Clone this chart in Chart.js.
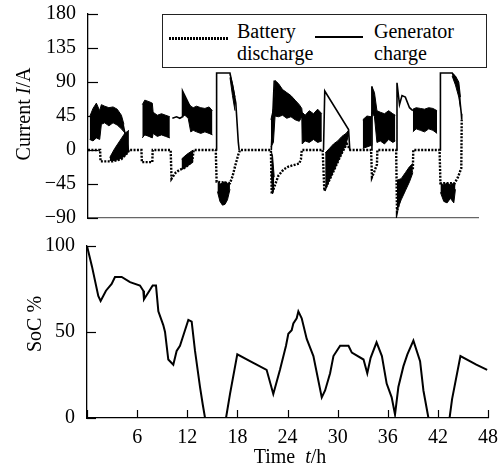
<!DOCTYPE html>
<html>
<head>
<meta charset="utf-8">
<script src="https://cdn.jsdelivr.net/npm/chart.js@4.4.1/dist/chart.umd.min.js"></script>
<style>
  body { margin: 0; background: #fff; }
  #wrap { position: relative; width: 502px; height: 468px; font-family: "Liberation Serif", "Times New Roman", "DejaVu Serif", serif; color: #000; }
  canvas { position: absolute; left: 0; }
  #currentChart { top: 0; }
  #socChart { top: 232px; }
  .label { position: absolute; font-size: 20px; line-height: 22px; white-space: nowrap; }
  .rot { transform: translate(-50%, -50%) rotate(-90deg); }
  .center { transform: translate(-50%, -50%); }
  #legend { position: absolute; left: 162px; top: 14px; width: 325px; height: 54px; box-sizing: border-box; border: 1.3px solid #222; background: #fff; }
  #legend .txt { position: absolute; top: 5px; font-size: 20px; line-height: 22px; }
  .dots { position: absolute; left: 6px; top: 22px; width: 59px; height: 3px;
    background: repeating-linear-gradient(to right, #000 0 2px, transparent 2px 3px); }
  .solid { position: absolute; left: 152px; top: 21px; width: 48px; height: 2px; background: #000; }
</style>
</head>
<body>
<div id="wrap">
  <canvas id="currentChart" width="502" height="232"></canvas>
  <canvas id="socChart" width="502" height="236"></canvas>
  <div id="legend">
    <div class="dots"></div>
    <div class="txt" style="left:74px">Battery<br>discharge</div>
    <div class="solid"></div>
    <div class="txt" style="left:211px">Generator<br>charge</div>
  </div>
  <div class="label rot" style="left:23px; top:114px">Current <i>I</i>/A</div>
  <div class="label rot" style="left:34px; top:324px">SoC %</div>
  <div class="label center" style="left:290px; top:456px">Time&nbsp;&nbsp;<i>t</i>/h</div>
</div>
<script>
// tick labels
const currentTicks = [-90, -45, 0, 45, 90, 135, 180];
const socTicks = [0, 50, 100];
const timeTicks = [0, 6, 12, 18, 24, 30, 36, 42, 48];

// battery discharge current (dotted)
const batteryTime = [0, 1.45, 1.5, 3.0, 4.0, 4.8, 4.9, 6.4, 6.45, 7.7, 7.75, 9.9, 10.0, 10.5, 11.0, 11.5, 12.0, 12.5, 12.65, 15.3, 15.4, 17.0, 17.3, 17.6, 18.0, 18.2, 21.9, 22.0, 22.4, 22.8, 23.4, 24.0, 24.6, 25.3, 25.5, 25.6, 28.1, 28.3, 29.4, 30.4, 31.0, 31.4, 33.9, 34.0, 34.3, 34.6, 34.65, 36.9, 37.0, 37.4, 37.8, 38.2, 38.6, 38.9, 38.95, 42.1, 42.2, 43.9, 44.3, 44.7, 44.75];
const batteryCurrent = [0, 0, -15, -15, -12, -3, 0, 0, -16, -16, 0, 0, -38, -30, -26, -24, -20, -14, 0, 0, -42, -44, -35, -22, -6, 0, 0, -58, -46, -34, -26, -22, -20, -18, -12, 0, 0, -54, -28, -4, 8, 0, 0, -36, -28, -19, 0, 0, -82, -62, -48, -38, -30, -26, 0, 0, -44, -44, -36, -24, 40];

// generator charge current (solid)
const generatorTime = [4.2, 4.85, 5.0, 10.1, 10.6, 11.0, 11.3, 11.32, 12.2, 12.3, 15.35, 15.4, 17.0, 17.4, 17.7, 18.0, 18.1, 18.2, 21.95, 22.3, 22.35, 28.2, 28.35, 31.2, 31.35, 31.5, 33.95, 34.0, 34.05, 36.95, 37.0, 37.3, 37.6, 38.0, 38.5, 38.9, 39.0, 42.15, 42.2, 43.6, 44.0, 44.4, 44.7, 44.75];
const generatorCurrent = [34, 0, null, 42, 44, 42, 44, 78, 58, null, 0, 102, 102, 80, 62, 10, 0, null, 0, 92, null, 0, 78, 27, 0, null, 0, 84, null, 0, 89, 60, 72, 70, 56, 52, null, 0, 102, 102, 96, 80, 48, 40];

// dense oscillation envelopes, positive side
const upperTime = [0.2, 0.6, 1.0, 1.4, 1.6, 2.0, 2.5, 3.0, 3.5, 4.0, 4.3, 5.0, 6.5, 6.8, 7.3, 7.7, 7.8, 8.3, 8.8, 9.3, 9.8, 10.5, 11.3, 11.6, 12.0, 12.3, 12.6, 13.0, 13.5, 14.0, 14.5, 14.9, 16.0, 17.0, 17.3, 17.6, 20.0, 21.9, 22.2, 22.4, 22.8, 23.3, 23.8, 24.3, 24.8, 25.3, 25.6, 25.65, 26.0, 26.5, 27.0, 27.5, 28.0, 30.0, 32.9, 33.4, 33.9, 34.0, 34.3, 34.6, 35.0, 35.5, 36.0, 36.5, 36.8, 37.8, 38.9, 39.3, 39.8, 40.3, 40.8, 41.3, 41.8, 43.0, 43.6, 44.0, 44.4, 44.6];
const upperHigh = [44, 55, 62, 52, 60, 58, 56, 57, 54, 46, 34, null, 60, 66, 64, 62, 50, 46, 48, 46, 44, null, 78, 70, 62, 58, 56, 58, 56, 55, 57, 52, null, 100, 88, 70, null, 40, 55, 92, 88, 80, 76, 72, 66, 60, 55, 50, 46, 52, 48, 54, 48, null, 40, 45, 44, 84, 76, 52, 50, 48, 52, 48, 46, null, 54, 56, 55, 54, 56, 55, 52, null, 102, 98, 90, 70];
const upperLow = [14, 12, 16, 14, 34, 36, 32, 36, 33, 28, 24, null, 16, 20, 18, 16, 22, 18, 20, 18, 16, null, 44, 46, 42, 24, 26, 24, 22, 24, 22, 20, null, 96, 72, 52, null, 4, 10, 45, 44, 46, 42, 44, 40, 38, 44, 8, 12, 10, 14, 10, 12, null, 2, 4, 6, 50, 44, 10, 12, 8, 14, 10, 12, null, 24, 28, 26, 24, 28, 26, 22, null, 98, 86, 70, 56];

// dense oscillation envelopes, negative side
const lowerTime = [2.6, 3.2, 3.8, 4.4, 4.9, 8.0, 11.2, 11.8, 12.6, 14.0, 15.5, 15.8, 16.1, 16.4, 16.7, 17.0, 19.0, 21.95, 22.1, 22.3, 25.0, 28.4, 28.9, 29.4, 29.9, 30.4, 30.9, 31.2, 34.0, 37.0, 37.5, 38.0, 38.5, 38.9, 40.0, 42.2, 42.6, 43.0, 43.4, 43.8, 44.0];
const lowerHigh = [-10, 2, 12, 22, 26, null, -12, -6, 0, null, -42, -45, -44, -42, -44, -44, null, -2, -8, -36, null, -4, 2, 8, 12, 18, 22, 26, null, -40, -38, -30, -22, -18, null, -44, -46, -44, -46, -44, -46];
const lowerLow = [-14, -14, -12, -8, -2, null, -26, -22, -16, null, -55, -68, -73, -72, -66, -52, null, -30, -58, -50, null, -54, -40, -28, -16, -4, 8, 20, null, -80, -66, -54, -42, -30, null, -56, -68, -70, -64, -70, -52];

// state of charge
const socTime = [0, 0.6, 1.35, 1.63, 2.27, 2.95, 3.35, 4.15, 5.15, 6.34, 6.74, 6.82, 7.34, 7.86, 8.26, 8.54, 9.13, 9.34, 9.73, 10.33, 10.73, 11.13, 11.73, 12.13, 12.53, 12.93, 13.53, 13.85, 14.13, 16.64, 17.12, 17.99, 19.51, 21.5, 22.3, 23.1, 23.82, 24.1, 24.5, 24.7, 25.1, 25.3, 25.7, 26.3, 27.1, 28.1, 28.5, 29.1, 29.5, 30.3, 31.3, 31.7, 33.1, 33.55, 33.95, 34.66, 35.3, 35.87, 36.47, 36.87, 37.27, 37.87, 38.35, 39.07, 39.87, 40.27, 40.87, 43.4, 43.7, 44.7, 46.6, 47.9];
const socValue = [100, 88, 71, 68, 74, 78, 82, 82, 79, 77, 74, 69, 73, 77, 77, 62, 54, 50, 34, 31, 39, 42, 51, 57, 56, 39, 18, 8, 0, 0, 14, 37, 33, 28, 14, 28, 42, 49, 51, 55, 58, 62, 58, 46, 36, 12, 16, 26, 36, 42, 42, 38, 34, 26, 35, 44, 36, 20, 12, 2, 18, 30, 37, 45, 33, 16, 0, 0, 11, 36, 31, 28];

const FONT = { family: "'Liberation Serif', 'Times New Roman', 'DejaVu Serif', serif", size: 20, lineHeight: 1 };
const pts = (xs, ys) => xs.map((x, i) => ({ x: x, y: ys[i] }));
const minus = (v) => (v < 0 ? "\u2212" + Math.abs(v) : String(v));

// ticks pointing into the plot area
const innerTicks = {
  id: "innerTicks",
  afterDraw(chart, args, opts) {
    const ctx = chart.ctx;
    ctx.save();
    ctx.strokeStyle = "#000";
    ctx.lineWidth = 1.2;
    Object.entries(opts.lengths || {}).forEach(([id, len]) => {
      const scale = chart.scales[id];
      scale.ticks.forEach((tick) => {
        const p = Math.round(scale.getPixelForValue(tick.value)) + 0.5;
        ctx.beginPath();
        if (scale.isHorizontal()) {
          ctx.moveTo(p, scale.top);
          ctx.lineTo(p, scale.top - len);
        } else {
          ctx.moveTo(scale.right, p);
          ctx.lineTo(scale.right + len, p);
        }
        ctx.stroke();
      });
    });
    ctx.restore();
  },
};

const base = { pointRadius: 0, tension: 0, spanGaps: false, borderColor: "#000" };

new Chart(document.getElementById("currentChart"), {
  type: "line",
  data: {
    datasets: [
      { ...base, data: pts(upperTime, upperLow), borderWidth: 1, fill: false },
      { ...base, data: pts(upperTime, upperHigh), borderWidth: 1, fill: "-1", backgroundColor: "#000" },
      { ...base, data: pts(lowerTime, lowerLow), borderWidth: 1, fill: false },
      { ...base, data: pts(lowerTime, lowerHigh), borderWidth: 1, fill: "-1", backgroundColor: "#000" },
      { ...base, data: pts(batteryTime, batteryCurrent), borderWidth: 2.4, borderDash: [2, 1.4], fill: false },
      { ...base, data: pts(generatorTime, generatorCurrent), borderWidth: 1.6, fill: false },
    ],
  },
  options: {
    responsive: false,
    animation: false,
    events: [],
    layout: { padding: { top: 11, right: 24, left: 0, bottom: 0 } },
    plugins: {
      legend: { display: false },
      tooltip: { enabled: false },
      innerTicks: { lengths: { y: 10 } },
    },
    scales: {
      x: {
        type: "linear",
        min: 0,
        max: 46.7,
        ticks: { display: false },
        grid: { display: false },
        border: { color: "#666", width: 1.2 },
        afterFit: (s) => { s.height = 11; },
      },
      y: {
        min: -90,
        max: 180,
        afterBuildTicks: (s) => { s.ticks = currentTicks.map((v) => ({ value: v })); },
        ticks: { font: FONT, color: "#000", padding: 4, autoSkip: false, callback: (v) => minus(v) },
        grid: { display: false },
        border: { color: "#000", width: 1.3 },
        afterFit: (s) => { s.width = 88; },
      },
    },
  },
  plugins: [innerTicks],
});

new Chart(document.getElementById("socChart"), {
  type: "line",
  data: {
    datasets: [
      { ...base, data: pts(socTime, socValue), borderWidth: 2, fill: false },
    ],
  },
  options: {
    responsive: false,
    animation: false,
    events: [],
    layout: { padding: { top: 12, right: 14, left: 0, bottom: 0 } },
    plugins: {
      legend: { display: false },
      tooltip: { enabled: false },
      innerTicks: { lengths: { x: 8, y: 9 } },
    },
    scales: {
      x: {
        type: "linear",
        min: 0,
        max: 48,
        afterBuildTicks: (s) => { s.ticks = timeTicks.map((v) => ({ value: v })); },
        ticks: { font: FONT, color: "#000", padding: 2, autoSkip: false, maxRotation: 0, callback: (v) => (v === 0 ? "" : v) },
        grid: { display: false },
        border: { color: "#000", width: 1.3 },
        afterFit: (s) => { s.height = 50; },
      },
      y: {
        min: 0,
        max: 100,
        afterBuildTicks: (s) => { s.ticks = socTicks.map((v) => ({ value: v })); },
        ticks: { font: FONT, color: "#000", padding: 4, autoSkip: false },
        grid: { display: false },
        border: { color: "#000", width: 1.3 },
        afterFit: (s) => { s.width = 87; },
      },
    },
  },
  plugins: [innerTicks],
});
</script>
</body>
</html>
